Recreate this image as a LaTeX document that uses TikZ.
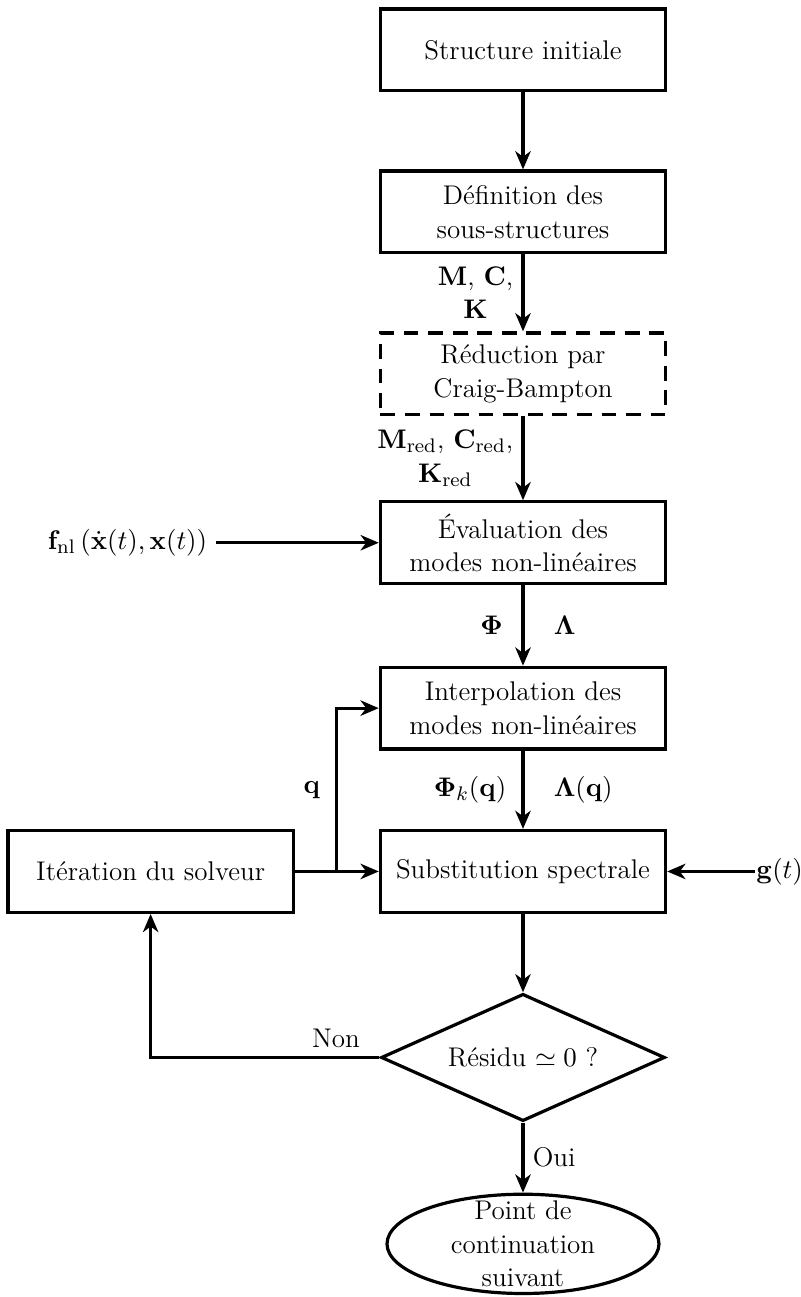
\documentclass[tikz,border=0pt]{standalone}
\usepackage{amsmath,amssymb}
\usepackage{tikz}
\usetikzlibrary{shapes.geometric,arrows.meta,positioning,calc}

\begin{document}
\begin{tikzpicture}[
  font=\fontsize{11}{13.6}\selectfont,
  node distance=1.1cm,
  box/.style={draw,line width=1.3pt,minimum width=4.08cm,minimum height=1.17cm,align=center},
  cbbox/.style={box,dash pattern=on 6pt off 4pt},
  decision/.style={draw,line width=1.3pt,diamond,aspect=2.2,inner sep=0pt,minimum width=4.06cm,minimum height=1.82cm,align=center},
  term/.style={draw,line width=1.3pt,ellipse,inner xsep=0pt,inner ysep=-3.5pt,minimum width=3.89cm,minimum height=1.42cm,align=center},
  arrow/.style={-{Stealth[length=2.6mm,width=2.2mm,inset=0.8mm]},line width=1.3pt}
]
  \useasboundingbox (0,0) rectangle (11.45,-18.55);

  \node[box] (init) at (7.48,-0.715) {Structure initiale};
  \node[box,below=of init] (sub) {Définition des\\sous-structures};
  \node[cbbox,below=of sub] (red) {Réduction par\\Craig-Bampton};
  \node[box,below=1.2cm of red] (eval) {Évaluation des\\modes non-linéaires};
  \node[box,below=1.15cm of eval] (interp) {Interpolation des\\modes non-linéaires};
  \node[box,below=1.12cm of interp] (subst) {Substitution spectrale};
  \node[box,left=1.2cm of subst] (iter) {Itération du solveur};
  \node[decision,below=1.12cm of subst] (dec) {Résidu $\simeq 0$ ?};
  \node[term,below=1.0cm of dec] (end) {Point de\\continuation\\suivant};

  % entrees
  \node[left=2.33cm of eval] (fnl) {$\mathbf{f}_{\mathrm{nl}}\left(\dot{\mathbf{x}}(t),\mathbf{x}(t)\right)$};
  \node[right=1.25cm of subst,inner xsep=0.5pt] (gt) {$\mathbf{g}(t)$};
  \coordinate (split) at ($(iter.east)!0.5!(subst.west)$);

  \draw[arrow] (init) -- (sub);
  \draw[arrow] (sub) -- node[left,align=center] {$\mathbf{M}$, $\mathbf{C}$,\\$\mathbf{K}$} (red);
  \draw[arrow] (red) -- node[left,align=center] {$\mathbf{M}_{\mathrm{red}}$, $\mathbf{C}_{\mathrm{red}}$,\\$\mathbf{K}_{\mathrm{red}}$} (eval);
  \draw[arrow] (fnl) -- (eval);
  \draw[arrow] (eval) -- node[left=1.5mm] {$\mathbf{\Phi}$} node[right=3mm] {$\mathbf{\Lambda}$} (interp);
  \draw[arrow] (interp) -- node[left=1mm] {$\mathbf{\Phi}_k(\mathbf{q})$} node[right=3mm] {$\mathbf{\Lambda}(\mathbf{q})$} (subst);
  \draw[arrow] (iter) -- (subst);
  \draw[arrow] (split) -- node[left=1mm] {$\mathbf{q}$} (split |- interp.west) -- (interp.west);
  \draw[arrow] (gt) -- (subst);
  \draw[arrow] (subst) -- (dec);
  \draw[arrow] (dec.west) -- node[above,pos=0.19] {Non} (dec.west -| iter.south) -- (iter.south);
  \draw[arrow] (dec) -- node[right] {Oui} (end);
\end{tikzpicture}
\end{document}
